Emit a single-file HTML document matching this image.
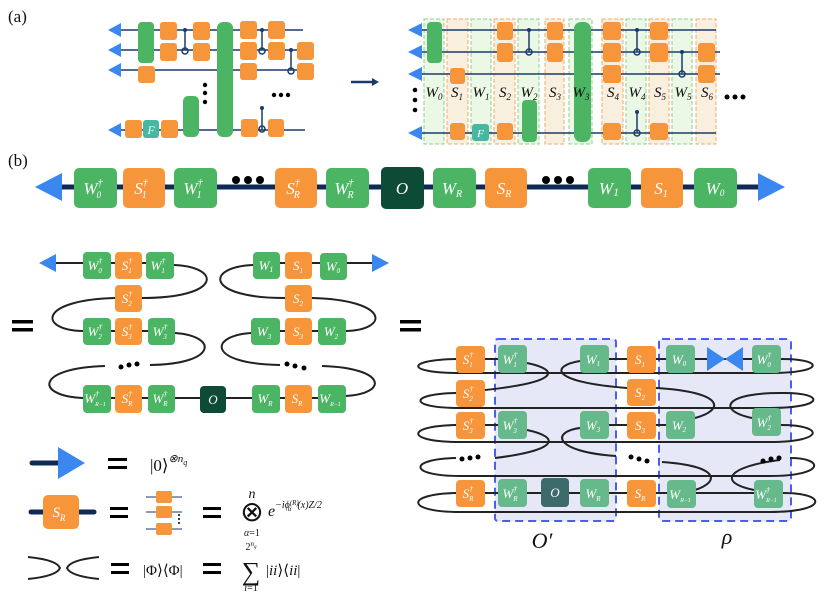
<!DOCTYPE html>
<html><head><meta charset="utf-8"><style>
html,body{margin:0;padding:0;background:#fff;}
svg{display:block;}
.w{fill:#4cb563}.o{fill:#f7953b}.t{fill:#46b7a0}
.wl{stroke:#1b3a6b;stroke-width:1.5;fill:none}
.lb{font-family:"Liberation Serif",serif;font-style:italic;fill:#fff;text-anchor:middle}
.m{font-family:"Liberation Serif",serif;fill:#111}
.k{stroke:#222;stroke-width:2;fill:none}
.ar{fill:#3a87f0}
.wf{fill:#66b98a}
</style></head><body>
<svg width="830" height="594" viewBox="0 0 830 594" xmlns="http://www.w3.org/2000/svg">
<text x="8" y="22" class="m" font-size="17">(a)</text>
<text x="8" y="166" class="m" font-size="17">(b)</text>

<!-- (a) left circuit -->
<g>
<line x1="112" y1="30" x2="303" y2="30" class="wl"/>
<line x1="112" y1="50" x2="308" y2="50" class="wl"/>
<line x1="112" y1="70" x2="314" y2="70" class="wl"/>
<line x1="112" y1="130" x2="305" y2="130" class="wl"/>
<polygon class="ar" points="108,30 121,23 121,37"/>
<polygon class="ar" points="108,50 121,43 121,57"/>
<polygon class="ar" points="108,70 121,63 121,77"/>
<polygon class="ar" points="108,130 121,123 121,137"/>
<rect class="w" x="138" y="22" width="16" height="41" rx="4"/>
<rect class="o" x="160" y="22" width="17" height="18" rx="3"/>
<rect class="o" x="160" y="43" width="17" height="18" rx="3"/>
<rect class="o" x="193" y="22" width="17" height="18" rx="3"/>
<rect class="o" x="193" y="43" width="17" height="18" rx="3"/>
<rect class="w" x="217" y="22" width="16" height="115" rx="6"/>
<rect class="o" x="240" y="21" width="17" height="18" rx="3"/>
<rect class="o" x="240" y="42" width="17" height="18" rx="3"/>
<rect class="o" x="240" y="63" width="17" height="17" rx="3"/>
<rect class="o" x="268" y="21" width="17" height="18" rx="3"/>
<rect class="o" x="268" y="42" width="17" height="18" rx="3"/>
<rect class="o" x="297" y="42" width="17" height="18" rx="3"/>
<rect class="o" x="297" y="63" width="17" height="17" rx="3"/>
<rect class="o" x="138" y="66" width="17" height="17" rx="3"/>
<rect class="o" x="125" y="120" width="17" height="18" rx="3"/>
<rect class="t" x="143" y="120" width="16" height="18" rx="3"/>
<text x="151" y="134" class="lb" font-size="12" font-style="normal" font-family="Liberation Sans">F</text>
<rect class="o" x="161" y="120" width="17" height="18" rx="3"/>
<rect class="w" x="183" y="96" width="16" height="41" rx="5"/>
<rect class="o" x="241" y="119" width="17" height="18" rx="3"/>
<rect class="o" x="268" y="119" width="16" height="18" rx="3"/>
<g stroke="#1b3a6b" stroke-width="1.5" fill="none">
<line x1="185" y1="30" x2="185" y2="50"/><circle cx="185" cy="51" r="3"/>
<line x1="262" y1="30" x2="262" y2="50"/><circle cx="262" cy="51" r="3"/>
<line x1="291" y1="50" x2="291" y2="70"/><circle cx="291" cy="71" r="3"/>
<line x1="262" y1="108" x2="262" y2="130"/><circle cx="262" cy="129" r="3"/>
</g>
<g fill="#1b3a6b"><circle cx="185" cy="30" r="2"/><circle cx="262" cy="30" r="2"/><circle cx="291" cy="50" r="2"/><circle cx="262" cy="108" r="2"/></g>
<g fill="#000"><circle cx="205" cy="85" r="2.2"/><circle cx="205" cy="93" r="2.2"/><circle cx="205" cy="102" r="2.2"/>
<circle cx="274" cy="95" r="2.2"/><circle cx="281" cy="95" r="2.2"/><circle cx="288" cy="95" r="2.2"/></g>
<line x1="351" y1="82" x2="374" y2="82" stroke="#1b3a6b" stroke-width="2.5"/>
<polygon points="379,82 372,78 372,86" fill="#1b3a6b"/>
</g>

<!-- (a) right circuit -->
<g>
<g stroke-dasharray="4,2" stroke-width="1">
<rect x="424" y="19" width="20" height="125" fill="#ecf8e6" stroke="#8fd08f"/>
<rect x="447" y="19" width="21" height="125" fill="#f9efdf" stroke="#f5ab6a"/>
<rect x="471" y="19" width="20" height="125" fill="#ecf8e6" stroke="#8fd08f"/>
<rect x="494" y="19" width="21" height="125" fill="#f9efdf" stroke="#f5ab6a"/>
<rect x="518" y="19" width="21" height="125" fill="#ecf8e6" stroke="#8fd08f"/>
<rect x="545" y="19" width="19" height="125" fill="#f9efdf" stroke="#f5ab6a"/>
<rect x="569" y="19" width="23" height="125" fill="#ecf8e6" stroke="#8fd08f"/>
<rect x="602" y="19" width="21" height="125" fill="#f9efdf" stroke="#f5ab6a"/>
<rect x="626" y="19" width="20" height="125" fill="#ecf8e6" stroke="#8fd08f"/>
<rect x="649" y="19" width="20" height="125" fill="#f9efdf" stroke="#f5ab6a"/>
<rect x="672" y="19" width="20" height="125" fill="#ecf8e6" stroke="#8fd08f"/>
<rect x="696" y="19" width="20" height="125" fill="#f9efdf" stroke="#f5ab6a"/>
</g>
<line x1="412" y1="30" x2="716" y2="30" class="wl"/>
<line x1="412" y1="52" x2="720" y2="52" class="wl"/>
<line x1="412" y1="74" x2="720" y2="74" class="wl"/>
<line x1="412" y1="133" x2="716" y2="133" class="wl"/>
<polygon class="ar" points="408,30 422,23 422,37"/>
<polygon class="ar" points="408,52 422,45 422,59"/>
<polygon class="ar" points="408,74 422,67 422,81"/>
<polygon class="ar" points="408,133 422,126 422,140"/>
<rect class="w" x="427" y="22" width="15" height="41" rx="4"/>
<rect class="o" x="450" y="68" width="15" height="16" rx="3"/>
<rect class="o" x="450" y="123" width="15" height="17" rx="3"/>
<rect class="t" x="472" y="124" width="17" height="17" rx="3"/>
<text x="480.5" y="137" class="lb" font-size="11" font-family="Liberation Sans">F</text>
<rect class="o" x="497" y="22" width="16" height="18" rx="3"/>
<rect class="o" x="497" y="43" width="16" height="19" rx="3"/>
<rect class="o" x="497" y="123" width="16" height="17" rx="3"/>
<rect class="w" x="522" y="100" width="15" height="42" rx="4"/>
<rect class="o" x="547" y="22" width="16" height="18" rx="3"/>
<rect class="o" x="547" y="43" width="16" height="19" rx="3"/>
<rect class="w" x="574" y="22" width="17" height="120" rx="7"/>
<rect class="o" x="603" y="22" width="18" height="18" rx="3"/>
<rect class="o" x="603" y="43" width="18" height="19" rx="3"/>
<rect class="o" x="603" y="65" width="18" height="18" rx="3"/>
<rect class="o" x="603" y="123" width="18" height="17" rx="3"/>
<rect class="o" x="650" y="22" width="18" height="18" rx="3"/>
<rect class="o" x="650" y="43" width="18" height="19" rx="3"/>
<rect class="o" x="650" y="123" width="18" height="17" rx="3"/>
<rect class="o" x="698" y="43" width="17" height="19" rx="3"/>
<rect class="o" x="698" y="65" width="17" height="18" rx="3"/>
<g stroke="#1b3a6b" stroke-width="1.5" fill="none">
<line x1="529" y1="30" x2="529" y2="52"/><circle cx="529" cy="52" r="3"/>
<line x1="637" y1="30" x2="637" y2="52"/><circle cx="637" cy="52" r="3"/>
<line x1="682" y1="52" x2="682" y2="74"/><circle cx="682" cy="74" r="3"/>
<line x1="637" y1="112" x2="637" y2="133"/><circle cx="637" cy="133" r="3"/>
</g>
<g fill="#1b3a6b"><circle cx="529" cy="30" r="2"/><circle cx="637" cy="30" r="2"/><circle cx="682" cy="52" r="2"/><circle cx="637" cy="112" r="2"/></g>
<g class="m" font-size="15" font-style="italic" text-anchor="middle">
<text x="434" y="97">W<tspan font-size="9" dy="3">0</tspan></text>
<text x="457" y="97">S<tspan font-size="9" dy="3">1</tspan></text>
<text x="481" y="97">W<tspan font-size="9" dy="3">1</tspan></text>
<text x="505" y="97">S<tspan font-size="9" dy="3">2</tspan></text>
<text x="529" y="97">W<tspan font-size="9" dy="3">2</tspan></text>
<text x="555" y="97">S<tspan font-size="9" dy="3">3</tspan></text>
<text x="581" y="97">W<tspan font-size="9" dy="3">3</tspan></text>
<text x="613" y="97">S<tspan font-size="9" dy="3">4</tspan></text>
<text x="637" y="97">W<tspan font-size="9" dy="3">4</tspan></text>
<text x="660" y="97">S<tspan font-size="9" dy="3">5</tspan></text>
<text x="683" y="97">W<tspan font-size="9" dy="3">5</tspan></text>
<text x="707" y="97">S<tspan font-size="9" dy="3">6</tspan></text>
</g>
<g fill="#000"><circle cx="415" cy="90" r="2.3"/><circle cx="415" cy="100" r="2.3"/><circle cx="415" cy="110" r="2.3"/>
<circle cx="727" cy="97" r="2.5"/><circle cx="735" cy="97" r="2.5"/><circle cx="743" cy="97" r="2.5"/></g>
</g>

<!-- (b) top line -->
<line x1="50" y1="187" x2="765" y2="187" stroke="#0f2a55" stroke-width="5"/>
<polygon class="ar" points="35,187 62,173 62,201"/>
<polygon class="ar" points="785,187 758,173 758,201"/>
<g font-size="17">
<rect class="w" x="74" y="168" width="43" height="40" rx="5"/>
<text class="lb" x="93" y="194">W<tspan font-size="10" dy="-8">†</tspan><tspan font-size="9" dx="-6" dy="12">0</tspan></text>
<rect class="o" x="123" y="168" width="42" height="40" rx="5"/>
<text class="lb" x="141" y="194">S<tspan font-size="10" dy="-8">†</tspan><tspan font-size="10" dx="-6" dy="12">1</tspan></text>
<rect class="w" x="174" y="168" width="43" height="40" rx="5"/>
<text class="lb" x="193" y="194">W<tspan font-size="10" dy="-8">†</tspan><tspan font-size="10" dx="-6" dy="12">1</tspan></text>
<rect class="o" x="275" y="168" width="42" height="40" rx="5"/>
<text class="lb" x="293" y="194">S<tspan font-size="10" dy="-8">†</tspan><tspan font-size="10" dx="-6" dy="12">R</tspan></text>
<rect class="w" x="326" y="168" width="43" height="40" rx="5"/>
<text class="lb" x="344" y="194">W<tspan font-size="10" dy="-8">†</tspan><tspan font-size="10" dx="-6" dy="12">R</tspan></text>
<rect x="381" y="167" width="43" height="42" rx="5" fill="#0d4b36"/>
<text class="lb" x="402" y="194">O</text>
<rect class="w" x="433" y="168" width="43" height="40" rx="5"/>
<text class="lb" x="452" y="194">W<tspan font-size="10" dy="3">R</tspan></text>
<rect class="o" x="485" y="168" width="42" height="40" rx="5"/>
<text class="lb" x="504" y="194">S<tspan font-size="10" dy="3">R</tspan></text>
<rect class="w" x="588" y="168" width="43" height="40" rx="5"/>
<text class="lb" x="609" y="194">W<tspan font-size="12" dy="2">1</tspan></text>
<rect class="o" x="641" y="168" width="42" height="40" rx="5"/>
<text class="lb" x="661" y="194">S<tspan font-size="10" dy="3">1</tspan></text>
<rect class="w" x="694" y="168" width="43" height="40" rx="5"/>
<text class="lb" x="715" y="194">W<tspan font-size="9" dy="2">0</tspan></text>
</g>
<g fill="#000"><circle cx="236" cy="180" r="4"/><circle cx="248" cy="180" r="4"/><circle cx="260" cy="180" r="4"/>
<circle cx="546" cy="180" r="4"/><circle cx="558" cy="180" r="4"/><circle cx="570" cy="180" r="4"/></g>

<!-- middle left -->
<g>
<rect x="12" y="320" width="21" height="3.5" fill="#000"/><rect x="12" y="328" width="21" height="3.5" fill="#000"/>
<rect x="400" y="320" width="21" height="3.5" fill="#000"/><rect x="400" y="328" width="21" height="3.5" fill="#000"/>
<line x1="52" y1="263" x2="174" y2="263" class="k"/>
<polygon class="ar" points="39,263 56,254 56,272"/>
<path class="k" d="M174,265 C222,267 222,298 142,298"/>
<path class="k" d="M115,298 C38,300 38,330 83,331"/>
<line x1="83" y1="331" x2="175" y2="331" class="k"/>
<path class="k" d="M175,333 C218,336 218,364 150,365"/>
<path class="k" d="M105,366 C35,368 35,396 83,398"/>
<line x1="83" y1="398" x2="345" y2="398" class="k"/>
<line x1="253" y1="263" x2="372" y2="263" class="k"/>
<polygon class="ar" points="389,263 372,254 372,272"/>
<path class="k" d="M253,265 C205,267 205,298 285,298"/>
<path class="k" d="M312,298 C390,300 390,330 345,331"/>
<line x1="251" y1="331" x2="345" y2="331" class="k"/>
<path class="k" d="M251,333 C208,336 208,364 280,365"/>
<path class="k" d="M322,366 C388,368 388,394 345,396"/>
<g fill="#000"><circle cx="121" cy="367" r="2.5"/><circle cx="129" cy="365" r="2.5"/><circle cx="137" cy="364" r="2.5"/>
<circle cx="287" cy="364" r="2.5"/><circle cx="295" cy="366" r="2.5"/><circle cx="304" cy="368" r="2.5"/></g>
<g font-size="13">
<rect class="w" x="83" y="252" width="28" height="27" rx="4"/><text class="lb" x="95" y="270">W<tspan font-size="8" dy="-6">†</tspan><tspan font-size="7" dx="-4" dy="9">0</tspan></text>
<rect class="o" x="115" y="252" width="27" height="27" rx="4"/><text class="lb" x="127" y="270">S<tspan font-size="8" dy="-6">†</tspan><tspan font-size="7" dx="-4" dy="9">1</tspan></text>
<rect class="w" x="146" y="252" width="28" height="27" rx="4"/><text class="lb" x="158" y="270">W<tspan font-size="8" dy="-6">†</tspan><tspan font-size="7" dx="-4" dy="9">1</tspan></text>
<rect class="o" x="115" y="285" width="27" height="27" rx="4"/><text class="lb" x="127" y="303">S<tspan font-size="8" dy="-6">†</tspan><tspan font-size="7" dx="-4" dy="9">2</tspan></text>
<rect class="w" x="83" y="318" width="28" height="27" rx="4"/><text class="lb" x="95" y="336">W<tspan font-size="8" dy="-6">†</tspan><tspan font-size="7" dx="-4" dy="9">2</tspan></text>
<rect class="o" x="115" y="318" width="27" height="27" rx="4"/><text class="lb" x="127" y="336">S<tspan font-size="8" dy="-6">†</tspan><tspan font-size="7" dx="-4" dy="9">3</tspan></text>
<rect class="w" x="148" y="318" width="27" height="27" rx="4"/><text class="lb" x="160" y="336">W<tspan font-size="8" dy="-6">†</tspan><tspan font-size="7" dx="-4" dy="9">3</tspan></text>
<rect class="w" x="83" y="385" width="28" height="28" rx="4"/><text class="lb" x="95" y="403">W<tspan font-size="8" dy="-6">†</tspan><tspan font-size="6" dx="-4" dy="9">R−1</tspan></text>
<rect class="o" x="115" y="385" width="27" height="28" rx="4"/><text class="lb" x="127" y="403">S<tspan font-size="8" dy="-6">†</tspan><tspan font-size="7" dx="-4" dy="9">R</tspan></text>
<rect class="w" x="148" y="385" width="27" height="28" rx="4"/><text class="lb" x="160" y="403">W<tspan font-size="8" dy="-6">†</tspan><tspan font-size="7" dx="-4" dy="9">R</tspan></text>
<rect x="200" y="386" width="26" height="27" rx="4" fill="#0d4b36"/><text class="lb" x="213" y="404">O</text>
<rect class="w" x="252" y="385" width="28" height="28" rx="4"/><text class="lb" x="265" y="403">W<tspan font-size="7" dy="3">R</tspan></text>
<rect class="o" x="285" y="385" width="27" height="28" rx="4"/><text class="lb" x="297" y="403">S<tspan font-size="7" dy="3">R</tspan></text>
<rect class="w" x="318" y="385" width="28" height="28" rx="4"/><text class="lb" x="330" y="403">W<tspan font-size="6" dy="3">R−1</tspan></text>
<rect class="w" x="253" y="252" width="27" height="27" rx="4"/><text class="lb" x="266" y="270">W<tspan font-size="8" dy="2">1</tspan></text>
<rect class="o" x="285" y="252" width="27" height="27" rx="4"/><text class="lb" x="298" y="270">S<tspan font-size="7" dy="3">1</tspan></text>
<rect class="w" x="320" y="253" width="27" height="27" rx="4"/><text class="lb" x="333" y="271">W<tspan font-size="7" dy="2">0</tspan></text>
<rect class="o" x="285" y="285" width="27" height="27" rx="4"/><text class="lb" x="298" y="303">S<tspan font-size="7" dy="3">2</tspan></text>
<rect class="w" x="251" y="318" width="29" height="27" rx="4"/><text class="lb" x="264" y="336">W<tspan font-size="7" dy="3">3</tspan></text>
<rect class="o" x="285" y="318" width="27" height="27" rx="4"/><text class="lb" x="298" y="336">S<tspan font-size="7" dy="3">3</tspan></text>
<rect class="w" x="318" y="318" width="28" height="27" rx="4"/><text class="lb" x="331" y="336">W<tspan font-size="7" dy="3">2</tspan></text>
</g>
</g>

<!-- right panel -->
<g>
<rect x="495" y="339" width="121" height="182" fill="#e6e8f8" stroke="#4a5ef0" stroke-width="2" stroke-dasharray="8,5" rx="3"/>
<rect x="659" y="339" width="132" height="182" fill="#e6e8f8" stroke="#4a5ef0" stroke-width="2" stroke-dasharray="8,5" rx="3"/>
<path class="k" d="M456,359 C405,360 405,373 460,373 L770,373 C825,373 825,359 781,359"/>
<path class="k" d="M456,393 C408,394 408,408 460,408 L770,408 C825,408 825,393 785,393"/>
<path class="k" d="M456,425 C405,426 405,442 460,442 L770,442 C825,442 825,425 781,425"/>
<path class="k" d="M456,458 C408,459 408,476 460,476 L770,476 C825,476 825,458 790,458"/>
<path class="k" d="M456,493 C405,494 405,512 460,512 L770,512 C828,512 828,493 783,493"/>
<path class="k" d="M527,363 C560,370 560,382 485,390"/>
<path class="k" d="M580,361 C550,366 550,382 627,388"/>
<path class="k" d="M656,388 C725,392 725,410 695,418"/>
<path class="k" d="M752,418 C715,410 725,392 785,393"/>
<path class="k" d="M527,430 C560,437 560,450 495,458"/>
<path class="k" d="M580,428 C550,432 555,452 616,456"/>
<path class="k" d="M662,462 C720,466 720,482 695,490"/>
<path class="k" d="M754,490 C715,482 730,466 780,460"/>
<line x1="485" y1="359" x2="498" y2="359" class="k"/>
<line x1="609" y1="359" x2="752" y2="359" class="k"/>
<line x1="485" y1="425" x2="498" y2="425" class="k"/>
<line x1="609" y1="425" x2="666" y2="425" class="k"/>
<line x1="485" y1="493" x2="783" y2="493" class="k"/>
<polygon class="ar" points="707,347 725,359 707,371"/>
<polygon class="ar" points="743,347 725,359 743,371"/>
<g fill="#000"><circle cx="462" cy="459" r="2.5"/><circle cx="470" cy="458" r="2.5"/><circle cx="478" cy="457" r="2.5"/>
<circle cx="631" cy="457" r="2.5"/><circle cx="639" cy="459" r="2.5"/><circle cx="647" cy="461" r="2.5"/>
<circle cx="763" cy="461" r="2.5"/><circle cx="771" cy="459" r="2.5"/><circle cx="779" cy="458" r="2.5"/></g>
<g font-size="13">
<rect class="o" x="456" y="346" width="29" height="27" rx="4"/><text class="lb" x="468" y="364">S<tspan font-size="8" dy="-6">†</tspan><tspan font-size="7" dx="-4" dy="9">1</tspan></text>
<rect class="o" x="456" y="380" width="29" height="27" rx="4"/><text class="lb" x="468" y="398">S<tspan font-size="8" dy="-6">†</tspan><tspan font-size="7" dx="-4" dy="9">2</tspan></text>
<rect class="o" x="456" y="412" width="29" height="27" rx="4"/><text class="lb" x="468" y="430">S<tspan font-size="8" dy="-6">†</tspan><tspan font-size="7" dx="-4" dy="9">3</tspan></text>
<rect class="o" x="456" y="480" width="29" height="27" rx="4"/><text class="lb" x="468" y="498">S<tspan font-size="8" dy="-6">†</tspan><tspan font-size="7" dx="-4" dy="9">R</tspan></text>
<rect class="wf" x="498" y="345" width="29" height="28" rx="4"/><text class="lb" x="510" y="364">W<tspan font-size="8" dy="-6">†</tspan><tspan font-size="7" dx="-4" dy="9">1</tspan></text>
<rect class="wf" x="498" y="411" width="29" height="28" rx="4"/><text class="lb" x="510" y="430">W<tspan font-size="8" dy="-6">†</tspan><tspan font-size="7" dx="-4" dy="9">3</tspan></text>
<rect class="wf" x="498" y="479" width="29" height="28" rx="4"/><text class="lb" x="510" y="498">W<tspan font-size="8" dy="-6">†</tspan><tspan font-size="7" dx="-4" dy="9">R</tspan></text>
<rect x="541" y="478" width="28" height="29" rx="4" fill="#3d6b6b"/><text class="lb" x="555" y="497">O</text>
<rect class="wf" x="580" y="345" width="29" height="28" rx="4"/><text class="lb" x="593" y="364">W<tspan font-size="7" dy="2">1</tspan></text>
<rect class="wf" x="580" y="411" width="29" height="28" rx="4"/><text class="lb" x="593" y="430">W<tspan font-size="7" dy="2">3</tspan></text>
<rect class="wf" x="580" y="479" width="29" height="28" rx="4"/><text class="lb" x="593" y="498">W<tspan font-size="7" dy="3">R</tspan></text>
<rect class="o" x="627" y="346" width="29" height="27" rx="4"/><text class="lb" x="640" y="364">S<tspan font-size="7" dy="3">1</tspan></text>
<rect class="o" x="627" y="379" width="29" height="27" rx="4"/><text class="lb" x="640" y="397">S<tspan font-size="7" dy="3">2</tspan></text>
<rect class="o" x="627" y="412" width="29" height="27" rx="4"/><text class="lb" x="640" y="430">S<tspan font-size="7" dy="3">3</tspan></text>
<rect class="o" x="627" y="480" width="29" height="27" rx="4"/><text class="lb" x="640" y="498">S<tspan font-size="7" dy="3">R</tspan></text>
<rect class="wf" x="666" y="345" width="29" height="28" rx="4"/><text class="lb" x="679" y="364">W<tspan font-size="7" dy="2">0</tspan></text>
<rect class="wf" x="666" y="411" width="29" height="28" rx="4"/><text class="lb" x="679" y="430">W<tspan font-size="7" dy="2">2</tspan></text>
<rect class="wf" x="667" y="480" width="29" height="28" rx="4"/><text class="lb" x="680" y="499">W<tspan font-size="6" dy="3">R−1</tspan></text>
<rect class="wf" x="752" y="345" width="29" height="28" rx="4"/><text class="lb" x="764" y="364">W<tspan font-size="8" dy="-6">†</tspan><tspan font-size="7" dx="-4" dy="9">0</tspan></text>
<rect class="wf" x="752" y="408" width="29" height="28" rx="4"/><text class="lb" x="764" y="427">W<tspan font-size="8" dy="-6">†</tspan><tspan font-size="7" dx="-4" dy="9">2</tspan></text>
<rect class="wf" x="754" y="480" width="29" height="28" rx="4"/><text class="lb" x="766" y="499">W<tspan font-size="8" dy="-6">†</tspan><tspan font-size="6" dx="-4" dy="9">R−1</tspan></text>
</g>
<text x="542" y="548" class="m" font-size="22" font-style="italic" text-anchor="middle">O′</text>
<text x="727" y="544" class="m" font-size="22" font-style="italic" text-anchor="middle">ρ</text>
</g>

<!-- legend -->
<g>
<line x1="32" y1="463" x2="62" y2="463" stroke="#0f2a55" stroke-width="5" stroke-linecap="round"/>
<polygon class="ar" points="58,447 85,463 58,479"/>
<rect x="108" y="458" width="19" height="3" fill="#000"/><rect x="108" y="466" width="19" height="3" fill="#000"/>
<text x="150" y="471" class="m" font-size="17">|0⟩<tspan font-size="11" dy="-9" font-style="italic">⊗n<tspan font-size="8" dy="3">q</tspan></tspan></text>

<line x1="31" y1="512" x2="94" y2="512" stroke="#0f2a55" stroke-width="5" stroke-linecap="round"/>
<rect class="o" x="43" y="495" width="36" height="34" rx="5"/>
<text class="lb" x="59" y="517" font-size="15">S<tspan font-size="9" dy="4">R</tspan></text>
<rect x="110" y="507" width="18" height="3" fill="#000"/><rect x="110" y="515" width="18" height="3" fill="#000"/>
<g stroke="#1b3a6b" stroke-width="1"><line x1="146" y1="497" x2="182" y2="497"/><line x1="146" y1="512" x2="182" y2="512"/><line x1="146" y1="529" x2="182" y2="529"/></g>
<rect class="o" x="156" y="491" width="16" height="12" rx="2"/>
<rect class="o" x="156" y="506" width="16" height="12" rx="2"/>
<rect class="o" x="156" y="523" width="16" height="12" rx="2"/>
<g fill="#000"><circle cx="179" cy="515" r="1"/><circle cx="179" cy="519" r="1"/><circle cx="179" cy="523" r="1"/></g>
<rect x="203" y="507" width="18" height="3" fill="#000"/><rect x="203" y="515" width="18" height="3" fill="#000"/>
<text x="252" y="498" class="m" font-size="14" font-style="italic" text-anchor="middle">n</text>
<text x="252" y="521" class="m" font-size="28" text-anchor="middle">⊗</text>
<text x="252" y="536" class="m" font-size="10" text-anchor="middle"><tspan font-style="italic">α</tspan>=1</text>
<text x="268" y="516" class="m" font-size="16" font-style="italic">e<tspan font-size="10" dy="-8">−iϕ<tspan font-size="7" dy="-3">(R)</tspan><tspan font-size="7" dx="-11" dy="6">α</tspan><tspan dx="6" dy="-3">(x)Z/2</tspan></tspan></text>

<path class="k" d="M28,557 C48,559 58,563 60,568 C58,573 48,577 28,579"/>
<path class="k" d="M99,557 C79,559 69,563 67,568 C69,573 79,577 99,579"/>
<rect x="111" y="563" width="18" height="3" fill="#000"/><rect x="111" y="571" width="18" height="3" fill="#000"/>
<text x="143" y="575" class="m" font-size="15">|Φ⟩⟨Φ|</text>
<rect x="203" y="563" width="18" height="3" fill="#000"/><rect x="203" y="571" width="18" height="3" fill="#000"/>
<text x="251" y="550" class="m" font-size="10" text-anchor="middle">2<tspan font-size="7" dy="-4" font-style="italic">n<tspan font-size="5" dy="2">q</tspan></tspan></text>
<text x="251" y="580" class="m" font-size="26" text-anchor="middle">∑</text>
<text x="251" y="591" class="m" font-size="10" text-anchor="middle"><tspan font-style="italic">i</tspan>=1</text>
<text x="266" y="575" class="m" font-size="15">|<tspan font-style="italic">ii</tspan>⟩⟨<tspan font-style="italic">ii</tspan>|</text>
</g>
</svg>
</body></html>
